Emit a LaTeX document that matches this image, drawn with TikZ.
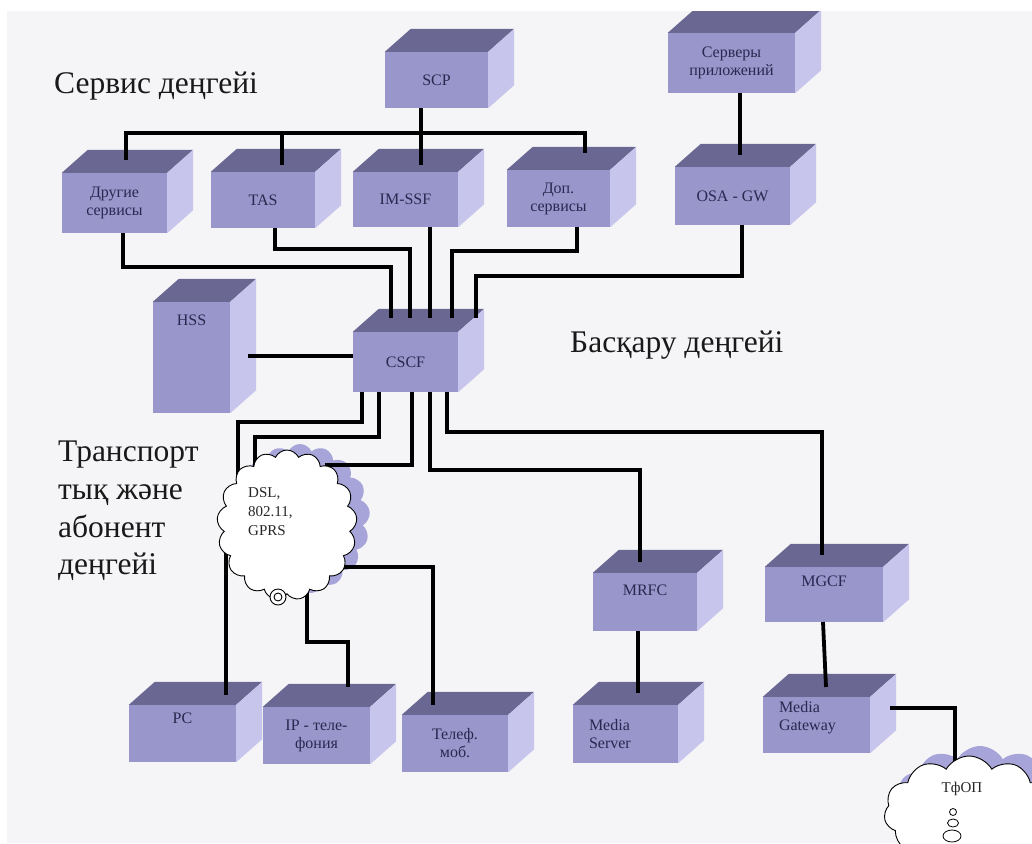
\documentclass[tikz,border=0pt]{standalone}
\usepackage{fontspec}
\setmainfont{Liberation Serif}
\usetikzlibrary{shapes.symbols,calc}
\definecolor{bg}{HTML}{F5F5F7}
\definecolor{frontc}{HTML}{9896CA}
\definecolor{topc}{HTML}{6A6892}
\definecolor{sidec}{HTML}{C7C5EC}
\definecolor{boxtxt}{HTML}{2A2850}
\definecolor{shadowc}{HTML}{A6A4D8}
\tikzset{
  frontface/.style={fill=frontc, inner sep=0pt, font=\fontsize{16}{18}\selectfont, text=boxtxt, align=center},
  boxlabel/.style={inner sep=0pt, font=\fontsize{16}{18}\selectfont, text=boxtxt, align=left},
  wire/.style={line width=3.8pt, draw=black, line join=miter},
  layer/.style={font=\fontsize{31.5}{36}\selectfont, text=black!90, inner sep=0pt, anchor=base west},
  netcloud/.style={cloud, cloud ignores aspect, draw=black, line width=0.9pt, fill=white, inner sep=0pt},
  cloudshadow/.style={cloud, cloud ignores aspect, fill=shadowc, inner sep=0pt},
  cloudtxt/.style={inner sep=0pt, font=\fontsize{15}{19}\selectfont, text=black!85, align=left},
}
\newcommand{\cube}[6][]{%
  \node[frontface, minimum width=#4pt, minimum height=#5pt, #1] (#2) at (#3) {#6};
  \fill[topc] (#2.north west) -- ++(26,-23) -- ($(#2.north east)+(26,-23)$) -- (#2.north east) -- cycle;
  \fill[sidec] (#2.north east) -- ++(26,-23) -- ($(#2.south east)+(26,-23)$) -- (#2.south east) -- cycle;
}
\begin{document}
\begin{tikzpicture}[x=1pt,y=-1pt]
\clip (0,0) rectangle (1032,843);
\fill[white] (0,0) rectangle (1032,843);
\fill[bg] (7,11) rectangle (1032,843);

% layer labels
\node[layer] (lservice) at (54,93) {Сервис деңгейі};
\node[layer] (lcontrol) at (570,352) {Басқару деңгейі};
\node[layer] (ltr1) at (58,461) {Транспорт};
\node[layer] (ltr2) at (58,499) {тық және};
\node[layer] (ltr3) at (58,537) {абонент};
\node[layer] (ltr4) at (58,574) {деңгейі};

% boxes
\cube{scp}{436.5,80}{103}{56}{SCP}
\cube{apps}{731.5,63}{127}{60}{Серверы\\приложений}
\cube{other}{114.5,203}{105}{60}{Другие\\сервисы}
\cube{tas}{263,200}{104}{56}{TAS}
\cube{imssf}{405.5,199.5}{105}{55}{IM-SSF}
\cube{dop}{558.5,198.5}{103}{57}{Доп.\\сервисы}
\cube{osa}{732.5,196}{115}{58}{OSA - GW}
\cube[label={[boxlabel,anchor=north,yshift=-13pt]north:HSS}]{hss}{191.5,357.5}{77}{111}{}
\cube{cscf}{405.5,362}{105}{60}{CSCF}
\cube[label={[boxlabel,anchor=north,yshift=-12pt]north:MRFC}]{mrfc}{645,602}{104}{58}{}
\cube[label={[boxlabel,anchor=north,yshift=-9pt]north:MGCF}]{mgcf}{824,594.5}{118}{55}{}
\cube[label={[boxlabel,anchor=west,xshift=16pt]west:Media\\Server}]{mserver}{625.5,734}{105}{58}{}
\cube[label={[boxlabel,anchor=west,xshift=16pt,yshift=7pt]west:Media\\Gateway}]{mgw}{816.5,725}{107}{56}{}
\cube[label={[boxlabel,anchor=north,yshift=-8pt]north:PC}]{pc}{182.5,733.5}{107}{57}{}
\cube{ipt}{316.5,735.5}{107}{57}{IP - теле-\\фония}
\cube{mob}{455,743.5}{106}{57}{Телеф.\\моб.}

% cloud shadows
\node[cloudshadow, cloud puffs=17, cloud puff arc=130, minimum width=140pt, minimum height=150pt] (dslsh) at (300,519) {};
\node[cloudshadow, cloud puffs=11, cloud puff arc=120, minimum width=170pt, minimum height=112pt] (pstnsh) at (980,802) {};

% wires: service level
\draw[wire] (126,160) |- (585,133) -- (585,153);
\draw[wire] (282,133) -- (282,165);
\draw[wire] (421,108) -- (421,165);
\draw[wire] (740,93) -- (740,155);
% service -> CSCF
\draw[wire] (123,233) |- (391,267) -- (391,318);
\draw[wire] (275,228) |- (410,249) -- (410,318);
\draw[wire] (430,227) -- (430,318);
\draw[wire] (577,227) |- (452,251) -- (452,318);
\draw[wire] (742,225) |- (476,276) -- (476,318);
% HSS -> CSCF
\draw[wire] (248,356) -- (353,356);
% CSCF -> below
\draw[wire] (362,392) |- (238,422) -- (238,490);
\draw[wire] (379,392) |- (255,437) -- (255,490);
\draw[wire] (412,392) |- (325,465);
\draw[wire] (430,392) |- (640,470) -- (640,562);
\draw[wire] (447,392) |- (822,432) -- (822,555);
% cloud -> terminals
\draw[wire] (226,540) -- (226,695);
\draw[wire] (307,580) |- (348,642) -- (348,687);
\draw[wire] (330,567) -| (433,705);
% media
\draw[wire] (638,631) -- (638,693);
\draw[wire] (823,622) -- (826,687);
\draw[wire] (890,708) -| (955,770);

% clouds
\node[netcloud, cloud puffs=17, cloud puff arc=130, minimum width=140pt, minimum height=150pt] (dsl) at (287,525) {};
\node[cloudtxt, anchor=north west] (dsltxt) at (248,487) {DSL,\\802.11,\\GPRS};
\draw[line width=0.9pt, fill=white] (278,597) circle (8);
\draw[line width=0.9pt] (278,597) circle (4);

\node[netcloud, cloud puffs=11, cloud puff arc=120, minimum width=170pt, minimum height=112pt] (pstn) at (969,812) {};
\node[cloudtxt] (pstntxt) at (962,789) {ТфОП};
\draw[line width=0.8pt] (953,812) circle (3.5);
\draw[line width=0.8pt] (953,823) ellipse (5.5 and 4);
\draw[line width=0.8pt] (952,836) ellipse (9 and 6);

% white frame strips
\fill[white] (0,0) rectangle (1032,11);
\fill[white] (0,0) rectangle (7,843);
\end{tikzpicture}
\end{document}
